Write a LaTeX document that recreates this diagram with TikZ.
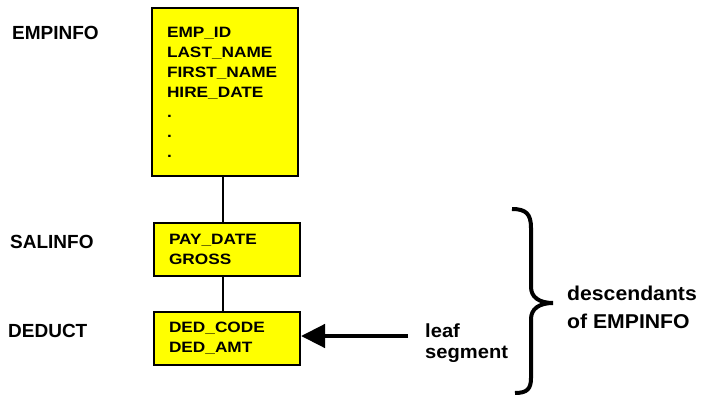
\documentclass[tikz,border=0pt]{standalone}
\usepackage{fontspec}
\setmainfont{Liberation Sans}
\newfontfamily\boxfam[FakeStretch=1.15]{Liberation Sans}
\newfontfamily\leaffam[FakeStretch=1.06]{Liberation Sans}
\usetikzlibrary{arrows.meta}
\definecolor{segyellow}{RGB}{255,255,0}
\tikzset{
  seg/.style={draw, line width=2pt, fill=segyellow, minimum width=146pt,
    inner xsep=15pt, inner ysep=0pt, text width=116pt, align=left,
    font=\boxfam\bfseries\fontsize{15pt}{20pt}\selectfont},
  lab/.style={anchor=base west, inner sep=0pt,
    font=\bfseries\fontsize{19pt}{22pt}\selectfont},
  side/.style={anchor=north west, inner sep=0pt, align=left},
  link/.style={line width=2pt},
  leafarrow/.style={line width=4.5pt, -{Triangle[length=24pt,width=23pt]}},
  bracepath/.style={line width=4pt}
}
\begin{document}
\begin{tikzpicture}[x=1pt,y=-1pt]
\useasboundingbox (0,0) rectangle (708,395);
% segments
\node[seg, minimum height=168pt] (emp) at (225,92)
  {EMP\_ID\\LAST\_NAME\\FIRST\_NAME\\HIRE\_DATE\\.\\.\\.};
\node[seg, minimum height=53pt] (sal) at (227,249.5)
  {PAY\_DATE\\GROSS};
\node[seg, minimum height=53pt] (ded) at (227,338.5)
  {DED\_CODE\\DED\_AMT};
% labels
\node[lab] (lemp) at (12,40) {EMPINFO};
\node[lab] (lsal) at (10,248) {SALINFO};
\node[lab] (lded) at (8,337) {DEDUCT};
% connectors
\draw[link] ([xshift=-4pt]sal.north) -- ([xshift=-4pt]sal.north |- emp.south);
\draw[link] ([xshift=-4pt]ded.north) -- ([xshift=-4pt]ded.north |- sal.south);
% leaf arrow
\coordinate (leafstart) at (408,336);
\draw[leafarrow] (leafstart) -- (ded.east |- leafstart);
\node[side, font=\leaffam\bfseries\fontsize{19pt}{21pt}\selectfont] (leaf) at (425,324) {leaf\\segment};
% brace
\draw[bracepath] (512,209) .. controls (526,209) and (531,214) .. (531,228)
  -- (531,287) .. controls (531,297) and (539,303) .. (553,303)
  .. controls (539,303) and (531,309) .. (531,319)
  -- (531,378) .. controls (531,389) and (527,393) .. (515,393);
\node[side, font=\leaffam\bfseries\fontsize{20pt}{28pt}\selectfont] (desc) at (567,286) {descendants\\of EMPINFO};
\end{tikzpicture}
\end{document}
